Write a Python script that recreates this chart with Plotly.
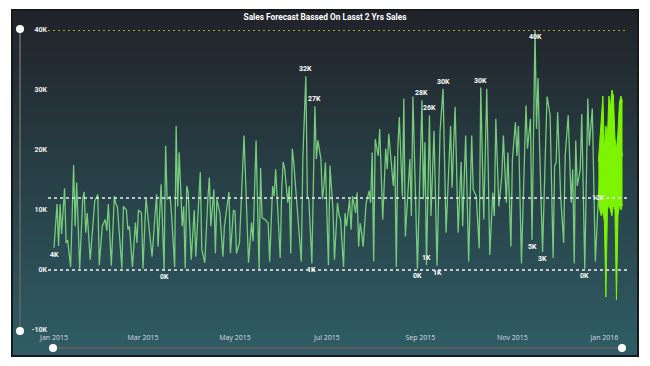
import base64
import struct
import zlib

import pandas as pd
import plotly.graph_objects as go

# ---------------- data ----------------
start_date = "2015-01-01"

# actual daily sales: day offset from 1 Jan 2015, value in thousands
sales_day = [0, 2, 3, 4, 5, 7, 8, 9, 11, 13, 14, 15, 17, 19, 20, 21, 22, 24, 27, 29,
             30, 32, 34, 35, 36, 38, 40, 41, 42, 45, 46, 48, 49, 50, 52, 54, 55, 56, 58, 59,
             61, 63, 65, 68, 69, 71, 73, 74, 75, 77, 78, 80, 81, 82, 83, 85, 86, 87, 88, 89,
             91, 93, 94, 96, 97, 98, 100, 102, 103, 104, 106, 107, 108, 110, 112, 113, 116, 117, 119, 120,
             121, 123, 126, 129, 131, 132, 134, 136, 137, 138, 140, 142, 143, 145, 146, 147, 150, 151, 152, 153,
             155, 156, 157, 158, 159, 161, 164, 165, 167, 168, 169, 171, 173, 174, 175, 177, 178, 179, 180, 181,
             182, 183, 185, 186, 188, 189, 190, 192, 193, 194, 196, 197, 198, 200, 201, 202, 203, 204, 205, 207,
             209, 210, 211, 212, 213, 215, 216, 218, 220, 221, 222, 225, 226, 227, 228, 229, 231, 232, 233, 236,
             237, 238, 241, 244, 245, 246, 247, 249, 250, 252, 254, 256, 258, 260, 263, 264, 266, 268, 270, 271,
             273, 275, 277, 278, 280, 282, 283, 285, 287, 289, 291, 292, 293, 295, 297, 298, 300, 301, 303, 304,
             306, 307, 308, 310, 313, 314, 316, 317, 319, 320, 321, 322, 324, 326, 327, 329, 331, 332, 333, 334,
             336, 338, 339, 341, 343, 344, 345, 346, 347, 349, 350, 352, 354, 355, 357, 359, 361]
sales_k = [3.7, 11.0, 4.0, 11.0, 6.0, 13.6, 4.5, 5.0, 0.5, 17.5, 7.3, 14.6, 0.2, 11.8, 13.0, 6.2, 9.5, 1.7, 11.5, 12.6,
           0.8, 7.3, 8.4, 6.5, 11.0, 0.7, 12.3, 11.0, 10.6, 0.3, 10.6, 10.0, 6.7, 7.3, 0.5, 7.9, 4.5, 10.0, 9.5, 0.2,
           12.0, 6.7, 2.2, 12.6, 3.9, 14.3, 0.0, 20.7, 11.8, 12.3, 9.0, 0.5, 24.0, 10.6, 19.6, 7.3, 10.6, 0.3, 14.0, 12.9,
           1.7, 10.0, 2.2, 11.8, 16.3, 3.4, 1.2, 11.8, 15.4, 7.3, 13.4, 2.8, 11.8, 9.5, 2.2, 7.3, 13.0, 2.8, 10.0, 9.8,
           2.8, 4.5, 22.4, 1.2, 7.9, 4.8, 21.6, 0.0, 17.0, 8.7, 8.4, 7.8, 1.4, 14.0, 12.3, 16.8, 2.0, 13.4, 18.0, 16.8,
           11.2, 14.0, 2.8, 20.2, 17.9, 11.2, 1.4, 18.5, 32.3, 12.3, 11.8, 1.1, 27.3, 18.5, 21.6, 18.5, 11.8, 14.0, 17.9, 9.0,
           0.8, 17.4, 10.0, 1.7, 11.2, 9.2, 8.4, 0.5, 9.5, 7.3, 11.8, 6.7, 12.3, 9.5, 12.9, 3.9, 7.8, 6.2, 3.9, 11.2,
           13.2, 11.2, 19.6, 1.4, 21.8, 19.0, 23.5, 8.4, 20.2, 16.8, 22.7, 14.0, 19.0, 0.5, 20.2, 25.5, 12.3, 28.6, 5.6, 18.5,
           9.0, 28.9, 0.2, 28.3, 11.8, 21.3, 0.8, 25.8, 9.0, 23.2, 0.7, 23.0, 30.2, 6.2, 24.0, 13.7, 27.2, 6.2, 18.0, 7.3,
           22.4, 1.4, 22.4, 13.4, 12.3, 3.6, 30.4, 8.4, 30.2, 2.5, 12.9, 9.0, 25.2, 10.6, 15.7, 22.4, 11.2, 19.6, 3.9, 18.5,
           24.6, 19.0, 24.0, 1.1, 27.4, 20.2, 25.2, 5.0, 40.0, 23.5, 32.0, 20.7, 3.0, 20.7, 28.9, 25.8, 2.0, 17.4, 17.9, 26.3,
           12.3, 4.5, 19.0, 25.8, 11.2, 16.8, 1.1, 21.6, 14.0, 16.8, 26.0, 0.2, 28.6, 20.7, 26.9, 1.4, 12.0]

# forecast (day offsets continue after the last actual day)
fc_day = [361, 362, 363, 364, 365, 366, 367, 368, 369, 370, 371, 372, 373, 374, 375, 376, 377]
fc_k = [12, 15, 18, 20, 14, 10, 16, 19, 18, 20, 19, 15, 11, 16, 19, 20, 19]
fc_upper_k = [18, 22, 26, 29, 20, 24, 22, 29, 27, 30, 29, 22, 20, 23, 28, 29, 28]
fc_lower_k = [11, 10, 9, 10, 8, -4.5, 10, 11, 10, 9, 11, 10, -5, 9, 11, 10, 11]

# reference lines (thousands)
max_line_k = 40
avg_line_k = 12
min_line_k = 0
avg_label = "12K"

# data labels on points
label_day = [0, 73, 167, 173, 171, 244, 249, 241, 247, 254, 258, 283, 319, 317, 324, 352]
label_text = ["4K", "0K", "32K", "27K", "1K", "28K", "26K", "0K", "1K", "1K", "30K", "30K", "40K", "5K", "3K", "0K"]
label_pos = ["below", "below", "above", "above", "below", "above", "above", "below", "above", "below",
             "above", "above", "below", "below", "below", "below"]

# axes
y_ticks_k = [-10, 0, 10, 20, 30, 40]
y_tick_text = ["-10K", "0K", "10K", "20K", "30K", "40K"]
x_ticks = ["2015-01-01", "2015-03-01", "2015-05-01", "2015-07-01", "2015-09-01", "2015-11-01", "2016-01-01"]
x_tick_text = ["Jan 2015", "Mar 2015", "May 2015", "Jul 2015", "Sep 2015", "Nov 2015", "Jan 2016"]
x_range = ["2014-12-28", "2016-01-16"]
title_text = "Sales Forecast Bassed On Lasst 2 Yrs Sales"

# ---------------- build ----------------
t0 = pd.Timestamp(start_date)


def to_date(days):
    return [t0 + pd.Timedelta(days=int(d)) for d in days]


sales_dates = to_date(sales_day)
sales_vals = [v * 1000 for v in sales_k]
fc_dates = to_date(fc_day)

W, H = 650, 366
OFF = 8  # page offset of the figure in the browser window
# screen-space plot box: x 48..627, y 30..330
ML = 48 - OFF
MT = 30 - OFF
PW, PH = 579, 300
MR = W - ML - PW
MB = H - MT - PH


def px_x(px):
    return (px - OFF - ML) / PW


def px_y(py):
    return (MT + PH - (py - OFF)) / PH


LINE_GREEN = "#76cb7c"
FC_GREEN = "#7cf400"


def gradient_png(top, bottom, n=200):
    rows = b""
    for i in range(n):
        t = i / (n - 1)
        c = bytes(round(top[k] + (bottom[k] - top[k]) * t) for k in range(3))
        rows += b"\x00" + c + c

    def chunk(tag, data):
        return struct.pack(">I", len(data)) + tag + data + struct.pack(">I", zlib.crc32(tag + data) & 0xffffffff)

    png = (b"\x89PNG\r\n\x1a\n"
           + chunk(b"IHDR", struct.pack(">IIBBBBB", 2, n, 8, 2, 0, 0, 0))
           + chunk(b"IDAT", zlib.compress(rows))
           + chunk(b"IEND", b""))
    return "data:image/png;base64," + base64.b64encode(png).decode()


fig = go.Figure()

# forecast band
fig.add_trace(go.Scatter(x=fc_dates, y=[v * 1000 for v in fc_upper_k], mode="lines",
                         line=dict(color=FC_GREEN, width=1), hoverinfo="skip", showlegend=False))
fig.add_trace(go.Scatter(x=fc_dates, y=[v * 1000 for v in fc_lower_k], mode="lines",
                         line=dict(color=FC_GREEN, width=1), fill="tonexty", fillcolor=FC_GREEN,
                         hoverinfo="skip", showlegend=False))
fig.add_trace(go.Scatter(x=fc_dates, y=[v * 1000 for v in fc_k], mode="lines",
                         line=dict(color=FC_GREEN, width=1.5), hoverinfo="skip", showlegend=False))

# actual sales
fig.add_trace(go.Scatter(x=sales_dates, y=sales_vals, mode="lines",
                         line=dict(color=LINE_GREEN, width=1.3), hoverinfo="skip", showlegend=False))

images = [dict(source=gradient_png((33, 35, 41), (47, 93, 101)), xref="paper", yref="paper",
               x=px_x(12), y=px_y(10), sizex=px_x(638) - px_x(12), sizey=px_y(10) - px_y(356),
               sizing="stretch", xanchor="left", yanchor="top", layer="below")]

shapes = []
# card border
shapes.append(dict(type="rect", xref="paper", yref="paper", layer="below",
                   x0=px_x(12), x1=px_x(638), y0=px_y(356), y1=px_y(10),
                   line=dict(color="#18191c", width=2), fillcolor="rgba(0,0,0,0)"))

# reference lines
shapes.append(dict(type="line", xref="paper", yref="y", x0=0, x1=1,
                   y0=max_line_k * 1000, y1=max_line_k * 1000,
                   line=dict(color="#b6e12a", width=1.6, dash="2px,3px")))
shapes.append(dict(type="line", xref="paper", yref="y", x0=0, x1=1,
                   y0=avg_line_k * 1000, y1=avg_line_k * 1000,
                   line=dict(color="#e8eef0", width=1.3, dash="3px,3px")))
shapes.append(dict(type="line", xref="paper", yref="y", x0=0, x1=1,
                   y0=min_line_k * 1000, y1=min_line_k * 1000,
                   line=dict(color="#f2f2f2", width=1.4, dash="3px,3px")))

# sliders
SL = "#5b5d60"
shapes.append(dict(type="line", xref="paper", yref="paper", x0=px_x(20), x1=px_x(20),
                   y0=px_y(331), y1=px_y(29), line=dict(color=SL, width=2)))
shapes.append(dict(type="line", xref="paper", yref="paper", x0=px_x(53), x1=px_x(622),
                   y0=px_y(348), y1=px_y(348), line=dict(color=SL, width=2)))
for (cx, cy) in [(20, 29), (20, 331), (53, 348), (622, 348)]:
    shapes.append(dict(type="circle", xref="paper", yref="paper", xsizemode="pixel", ysizemode="pixel",
                       xanchor=px_x(cx), yanchor=px_y(cy), x0=-4, x1=4, y0=-4, y1=4,
                       fillcolor="white", line=dict(color="white", width=0)))

annotations = []
lookup = dict(zip(sales_day, sales_vals))
for d, txt, pos in zip(label_day, label_text, label_pos):
    annotations.append(dict(x=t0 + pd.Timedelta(days=d), y=lookup[d], xref="x", yref="y",
                            text=txt, showarrow=False,
                            yshift=7 if pos == "above" else -7,
                            font=dict(family="Roboto", size=7, color="white", weight="bold")))
annotations.append(dict(x=t0 + pd.Timedelta(days=fc_day[0]), y=avg_line_k * 1000, xref="x", yref="y",
                        text=avg_label, showarrow=False,
                        font=dict(family="Roboto", size=7, color="#e8eef0", weight="bold")))

fig.update_layout(
    width=W, height=H,
    margin=dict(l=ML, r=MR, t=MT, b=MB),
    paper_bgcolor="white",
    plot_bgcolor="rgba(0,0,0,0)",
    title=dict(text=title_text, x=(325 - OFF) / W, xanchor="center", y=1 - (17 - OFF) / H, yanchor="middle",
               font=dict(family="Roboto", size=8.3, color="white", weight="bold")),
    showlegend=False,
    shapes=shapes,
    images=images,
    annotations=annotations,
    xaxis=dict(range=x_range, type="date", tickvals=x_ticks, ticktext=x_tick_text,
               showgrid=False, zeroline=False, showline=False, ticks="", ticklabelstandoff=2,
               tickfont=dict(family="Open Sans", size=7, color="#d8dde0")),
    yaxis=dict(range=[-10000, 40000], tickvals=[v * 1000 for v in y_ticks_k], ticktext=y_tick_text,
               showgrid=False, zeroline=False, showline=False, ticks="",
               tickfont=dict(family="Roboto", size=7, color="#f0f0f0", weight="bold")),
)

fig.write_html("out.html")
